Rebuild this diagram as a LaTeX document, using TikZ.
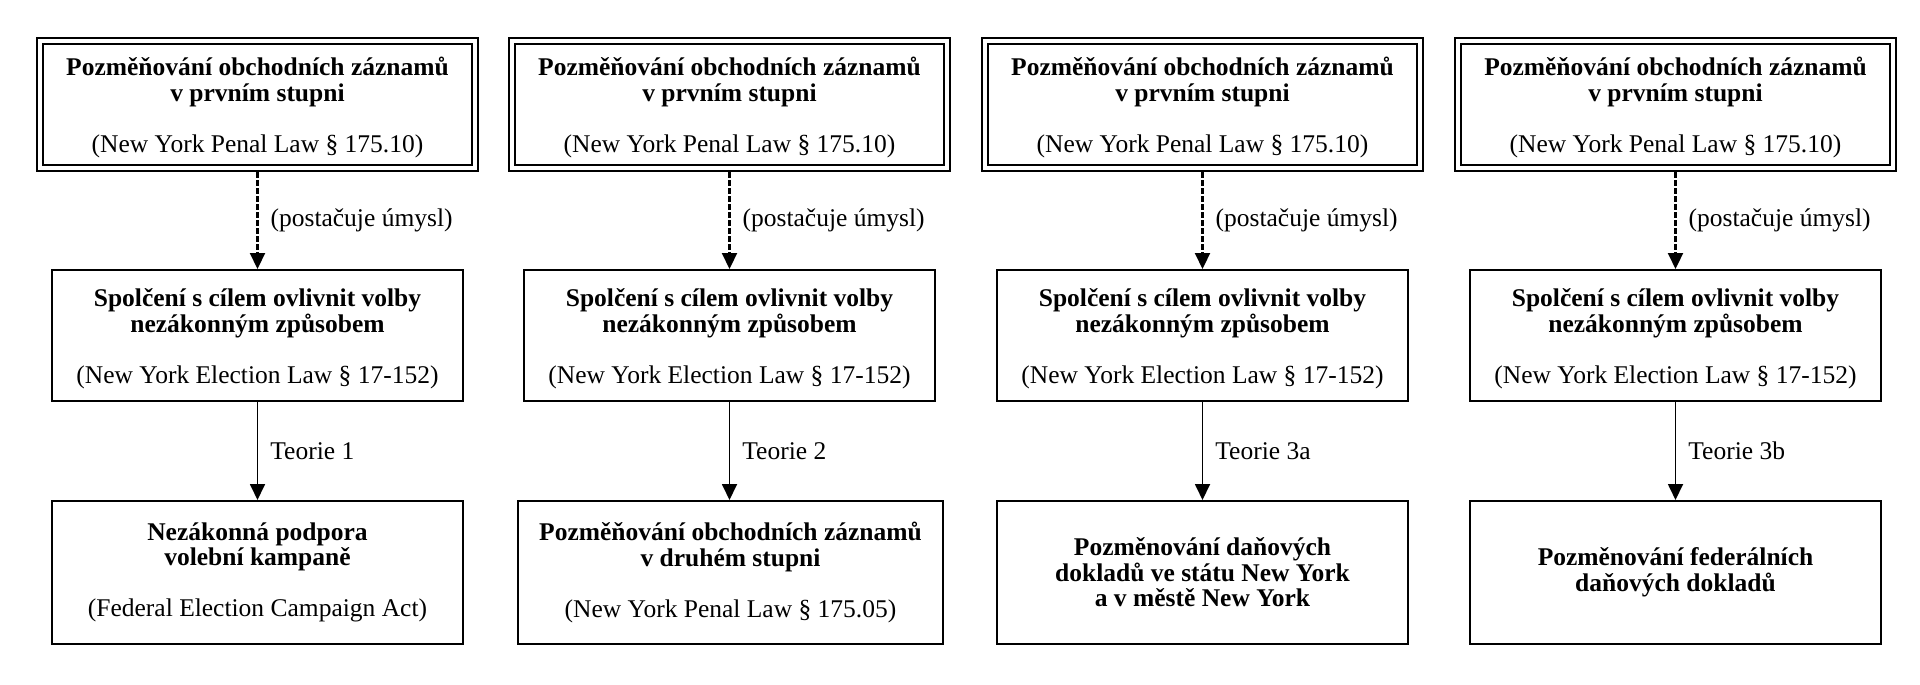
\documentclass[tikz,border=0pt]{standalone}
\usepackage{fontspec}
\setmainfont{Liberation Serif}
\usetikzlibrary{arrows.meta}
\begin{document}
\begin{tikzpicture}[x=1pt,y=-1pt,
  every node/.style={font=\fontsize{25.5}{25.5}\selectfont},
  topbox/.style={draw, double, line width=1.8pt, double distance=4.2pt, minimum width=435.2pt, minimum height=127.2pt, inner sep=0pt, outer sep=3.9pt, align=center},
  midbox/.style={draw, line width=1.8pt, minimum width=411.2pt, minimum height=131.2pt, inner sep=0pt, outer sep=0.9pt, align=center},
  botbox/.style={draw, line width=1.8pt, minimum width=411.2pt, minimum height=143.2pt, inner sep=0pt, outer sep=0.9pt, align=center},
  conn/.style={line width=1.8pt, -{Triangle[length=16pt,width=15pt]}},
  dconn/.style={conn, line width=2.2pt, dash pattern=on 5.5pt off 2.5pt},
  lbl/.style={inner sep=0pt, anchor=west, xshift=12pt}
]
\useasboundingbox (0,0) rectangle (1920,685);

% column 1
\node[topbox] (t1) at (257.5,104.5) {\rule{0pt}{24.5pt}\textbf{Pozměňování obchodních záznamů}\\\textbf{v prvním stupni}\\[25.5pt](New York Penal Law § 175.10)};
\node[midbox] (m1) at (257.5,335.5) {\rule{0pt}{24.5pt}\textbf{Spolčení s cílem ovlivnit volby}\\\textbf{nezákonným způsobem}\\[25.5pt](New York Election Law § 17-152)};
\node[botbox] (b1) at (257.5,572.5) {\textbf{Nezákonná podpora}\\\textbf{volební kampaně}\\[25.5pt](Federal Election Campaign Act)};

% column 2
\node[topbox] (t2) at (729.5,104.5) {\rule{0pt}{24.5pt}\textbf{Pozměňování obchodních záznamů}\\\textbf{v prvním stupni}\\[25.5pt](New York Penal Law § 175.10)};
\node[midbox] (m2) at (729.5,335.5) {\rule{0pt}{24.5pt}\textbf{Spolčení s cílem ovlivnit volby}\\\textbf{nezákonným způsobem}\\[25.5pt](New York Election Law § 17-152)};
\node[botbox, minimum width=425.2pt] (b2) at (730.5,572.5) {\textbf{Pozměňování obchodních záznamů}\\\textbf{v druhém stupni}\\[25.5pt](New York Penal Law § 175.05)};

% column 3
\node[topbox] (t3) at (1202.5,104.5) {\rule{0pt}{24.5pt}\textbf{Pozměňování obchodních záznamů}\\\textbf{v prvním stupni}\\[25.5pt](New York Penal Law § 175.10)};
\node[midbox] (m3) at (1202.5,335.5) {\rule{0pt}{24.5pt}\textbf{Spolčení s cílem ovlivnit volby}\\\textbf{nezákonným způsobem}\\[25.5pt](New York Election Law § 17-152)};
\node[botbox, font=\fontsize{25.5}{25.5}\selectfont\bfseries] (b3) at (1202.5,572.5) {Pozměnování daňových\\dokladů ve státu New York\\a v městě New York};

% column 4
\node[topbox] (t4) at (1675.5,104.5) {\rule{0pt}{24.5pt}\textbf{Pozměňování obchodních záznamů}\\\textbf{v prvním stupni}\\[25.5pt](New York Penal Law § 175.10)};
\node[midbox] (m4) at (1675.5,335.5) {\rule{0pt}{24.5pt}\textbf{Spolčení s cílem ovlivnit volby}\\\textbf{nezákonným způsobem}\\[25.5pt](New York Election Law § 17-152)};
\node[botbox, font=\fontsize{25.5}{25.5}\selectfont\bfseries] (b4) at (1675.5,572.5) {Pozměnování federálních\\daňových dokladů};

% connectors
\draw[dconn] (t1.south) -- (m1.north) node[midway, lbl] {(postačuje úmysl)};
\draw[conn] (m1.south) -- (b1.north -| m1.south) node[midway, lbl] {Teorie 1};
\draw[dconn] (t2.south) -- (m2.north) node[midway, lbl] {(postačuje úmysl)};
\draw[conn] (m2.south) -- (b2.north -| m2.south) node[midway, lbl] {Teorie 2};
\draw[dconn] (t3.south) -- (m3.north) node[midway, lbl] {(postačuje úmysl)};
\draw[conn] (m3.south) -- (b3.north) node[midway, lbl] {Teorie 3a};
\draw[dconn] (t4.south) -- (m4.north) node[midway, lbl] {(postačuje úmysl)};
\draw[conn] (m4.south) -- (b4.north) node[midway, lbl] {Teorie 3b};
\end{tikzpicture}
\end{document}
